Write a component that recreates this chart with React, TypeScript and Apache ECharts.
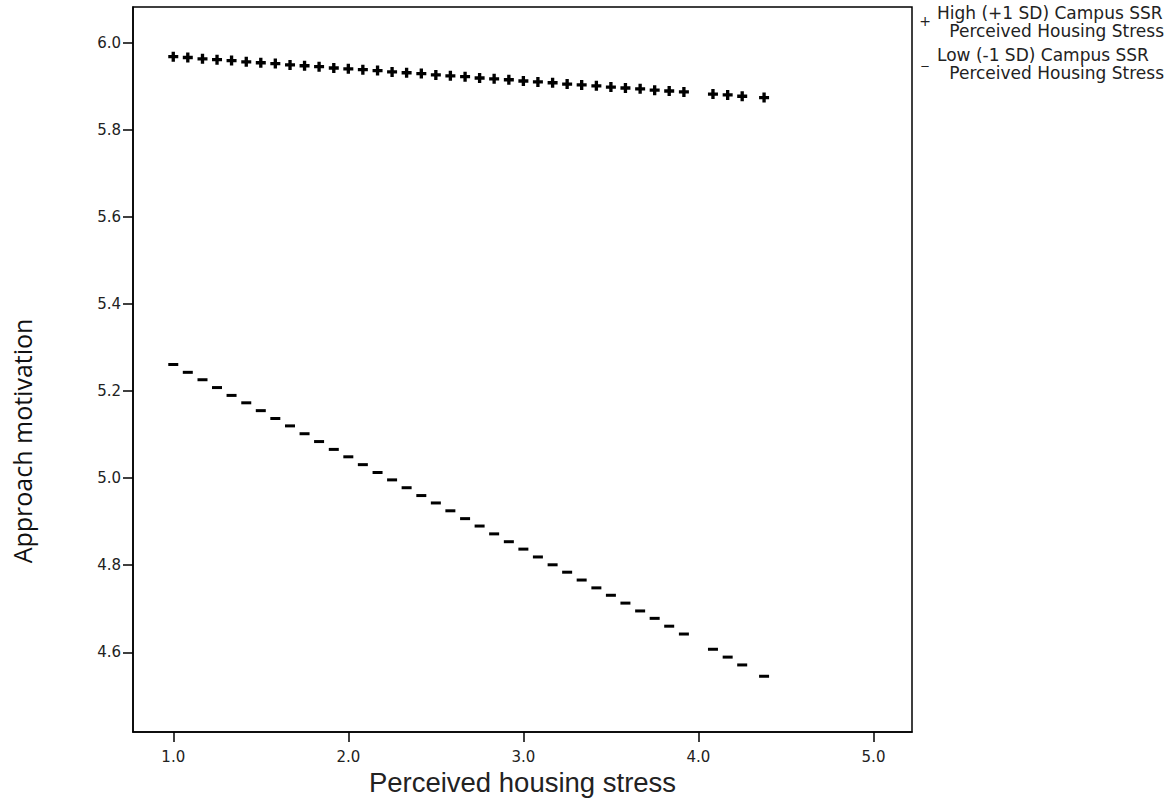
import React, { useEffect, useRef } from "react";
import * as echarts from "echarts";

// Perceived housing stress values (x) shared by both simple-slope series
const housingStress = [
  1.0, 1.083, 1.167, 1.25, 1.333, 1.417, 1.5, 1.583, 1.667, 1.75, 1.833, 1.917,
  2.0, 2.083, 2.167, 2.25, 2.333, 2.417, 2.5, 2.583, 2.667, 2.75, 2.833, 2.917,
  3.0, 3.083, 3.167, 3.25, 3.333, 3.417, 3.5, 3.583, 3.667, 3.75, 3.833, 3.917,
  4.083, 4.167, 4.25, 4.375,
];
// Approach motivation, High (+1 SD) Campus SSR
const highSSR = [
  5.968, 5.966, 5.963, 5.961, 5.959, 5.956, 5.954, 5.952, 5.949, 5.947, 5.945, 5.942,
  5.94, 5.938, 5.936, 5.933, 5.931, 5.929, 5.926, 5.924, 5.922, 5.919, 5.917, 5.915,
  5.912, 5.91, 5.908, 5.905, 5.903, 5.901, 5.898, 5.896, 5.894, 5.891, 5.889, 5.887,
  5.882, 5.88, 5.877, 5.874,
];
// Approach motivation, Low (-1 SD) Campus SSR
const lowSSR = [
  5.261, 5.243, 5.226, 5.208, 5.19, 5.173, 5.155, 5.137, 5.12, 5.102, 5.084, 5.066,
  5.049, 5.031, 5.013, 4.996, 4.978, 4.96, 4.943, 4.925, 4.907, 4.89, 4.872, 4.854,
  4.837, 4.819, 4.801, 4.784, 4.766, 4.748, 4.731, 4.713, 4.695, 4.678, 4.66, 4.642,
  4.607, 4.589, 4.571, 4.545,
];
const xTicks = [1, 2, 3, 4, 5];
const yTicks = [4.6, 4.8, 5.0, 5.2, 5.4, 5.6, 5.8, 6.0];
const seriesNames = [
  "High (+1 SD) Campus SSR Perceived Housing Stress",
  "Low (-1 SD) Campus SSR Perceived Housing Stress",
];

const PLUS = "path://M3,0H6V3H9V6H6V9H3V6H0V3H3Z";

export default function App() {
  const ref = useRef<HTMLDivElement>(null);
  useEffect(() => {
    if (!ref.current) return;
    const chart = echarts.init(ref.current, null, { renderer: "svg" });
    const tickFont = { fontFamily: "DejaVu Sans", fontSize: 15, color: "#222" };
    const legendFont = { fontFamily: "DejaVu Sans", fontSize: 17, fill: "#222" };
    chart.setOption({
      animation: false,
      backgroundColor: "#fff",
      grid: {
        left: 133,
        right: 258,
        top: 7,
        bottom: 70,
        show: true,
        borderColor: "#000",
        borderWidth: 1.5,
      },
      xAxis: {
        type: "value",
        min: 0.77,
        max: 5.22,
        name: "Perceived housing stress",
        nameLocation: "middle",
        nameGap: 35,
        nameTextStyle: { fontFamily: "Liberation Sans, Arial", fontSize: 27.5, color: "#222" },
        axisLine: { show: true, onZero: false, lineStyle: { color: "#000", width: 1.5 } },
        axisTick: { show: true, length: 10, customValues: xTicks, lineStyle: { color: "#000", width: 1.5 } },
        axisLabel: { ...tickFont, margin: 17, customValues: xTicks, formatter: (v: number) => v.toFixed(1) },
        splitLine: { show: false },
      },
      yAxis: {
        type: "value",
        min: 4.417,
        max: 6.082,
        axisLine: { show: true, onZero: false, lineStyle: { color: "#000", width: 1.5 } },
        axisTick: { show: true, length: 10, customValues: yTicks, lineStyle: { color: "#000", width: 1.5 } },
        axisLabel: { ...tickFont, margin: 12, customValues: yTicks, formatter: (v: number) => v.toFixed(1) },
        splitLine: { show: false },
      },
      series: [
        {
          name: seriesNames[0],
          type: "scatter",
          symbol: PLUS,
          symbolSize: 10,
          itemStyle: { color: "#000", opacity: 1 },
          data: housingStress.map((x, i) => [x, highSSR[i]]),
        },
        {
          name: seriesNames[1],
          type: "scatter",
          symbol: "rect",
          symbolSize: [10, 3],
          itemStyle: { color: "#000", opacity: 1 },
          data: housingStress.map((x, i) => [x, lowSSR[i]]),
        },
      ],
      graphic: [
        {
          type: "text",
          x: 22,
          y: 441,
          rotation: Math.PI / 2,
          style: {
            text: "Approach motivation",
            fontFamily: "Open Sans",
            fontSize: 25,
            fill: "#111",
            align: "center",
            verticalAlign: "middle",
          },
        },
        { type: "text", x: 925, y: 21, style: { text: "+", ...legendFont, fontSize: 14, align: "center", verticalAlign: "middle" } },
        { type: "text", x: 937, y: 13, style: { text: "High (+1 SD) Campus SSR", ...legendFont, align: "left", verticalAlign: "middle" } },
        { type: "text", x: 1164, y: 31, style: { text: "Perceived Housing Stress", ...legendFont, align: "right", verticalAlign: "middle" } },
        { type: "text", x: 925, y: 66, style: { text: "_", ...legendFont, fontSize: 14, align: "center", verticalAlign: "bottom" } },
        { type: "text", x: 937, y: 55, style: { text: "Low (-1 SD) Campus SSR", ...legendFont, align: "left", verticalAlign: "middle" } },
        { type: "text", x: 1164, y: 73, style: { text: "Perceived Housing Stress", ...legendFont, align: "right", verticalAlign: "middle" } },
      ],
    });
    return () => chart.dispose();
  }, []);
  return (
    <div
      ref={ref}
      style={{ position: "absolute", left: 0, top: 0, width: 1170, height: 802 }}
    />
  );
}
